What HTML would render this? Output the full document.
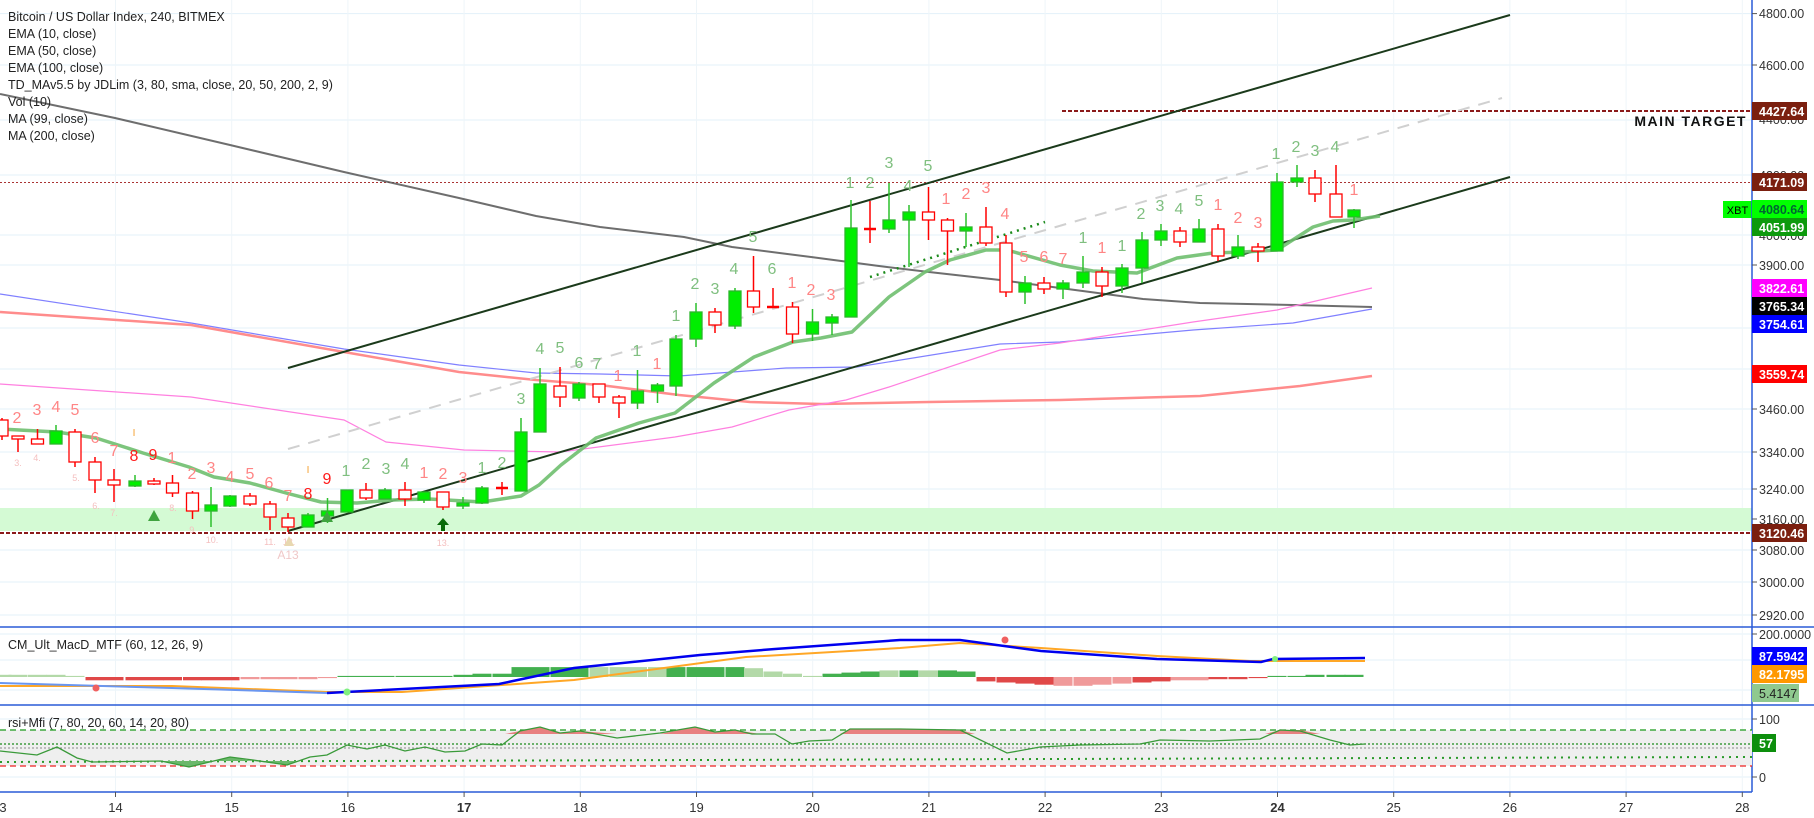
<!DOCTYPE html>
<html><head><meta charset="utf-8">
<style>
html,body{margin:0;padding:0;background:#fff;}
svg{display:block;font-family:"Liberation Sans",sans-serif;}
.leg{font-size:12.5px;fill:#222;}
.tk{font-size:12.5px;fill:#333;}
.num{font-size:16px;text-anchor:middle;}
.g{fill:#7fbf7f;}.r{fill:#ff8585;}.rb{fill:#ff1a1a;}
.lab{font-size:12.5px;font-weight:bold;fill:#fff;}
.dt{font-size:13px;fill:#333;text-anchor:middle;}
</style></head><body>
<svg id="s" width="1814" height="818" viewBox="0 0 1814 818" xmlns="http://www.w3.org/2000/svg">
<rect width="1814" height="818" fill="#fff"/>
<!-- horizontal grid -->
<g stroke="#e3f1fa" stroke-width="1">
<line x1="0" x2="1752" y1="13.6" y2="13.6"/><line x1="0" x2="1752" y1="65" y2="65"/><line x1="0" x2="1752" y1="120" y2="120"/>
<line x1="0" x2="1752" y1="175" y2="175"/><line x1="0" x2="1752" y1="235" y2="235"/><line x1="0" x2="1752" y1="265" y2="265"/>
<line x1="0" x2="1752" y1="328" y2="328"/><line x1="0" x2="1752" y1="369" y2="369"/><line x1="0" x2="1752" y1="409" y2="409"/>
<line x1="0" x2="1752" y1="452" y2="452"/><line x1="0" x2="1752" y1="489" y2="489"/><line x1="0" x2="1752" y1="519" y2="519"/>
<line x1="0" x2="1752" y1="550" y2="550"/><line x1="0" x2="1752" y1="582" y2="582"/><line x1="0" x2="1752" y1="615" y2="615"/>
<line x1="0" x2="1752" y1="634" y2="634"/><line x1="0" x2="1752" y1="660" y2="660"/><line x1="0" x2="1752" y1="690" y2="690"/>
<line x1="0" x2="1752" y1="719" y2="719"/><line x1="0" x2="1752" y1="777" y2="777"/>
</g>
<g id="vgrid" stroke="#eef5f9" stroke-width="1"></g>
<!-- support zone -->
<rect x="0" y="508" width="1752" height="23" fill="#d4fad4"/>
<!-- horizontal levels -->
<line x1="0" x2="1752" y1="533" y2="533" stroke="#8b1a1a" stroke-width="2" stroke-dasharray="4,2"/>
<line x1="0" x2="1752" y1="182.5" y2="182.5" stroke="#a33" stroke-width="1" stroke-dasharray="2,2"/>
<line x1="1062" x2="1752" y1="111" y2="111" stroke="#8b1a1a" stroke-width="2" stroke-dasharray="4,2"/>
<text x="1747" y="126" text-anchor="end" style="font-size:14px;font-weight:bold;letter-spacing:1.5px;fill:#111">MAIN TARGET</text>
<!-- MAs -->
<polyline fill="none" stroke="#555" stroke-width="2" opacity="0.85" points="0,94 115,118 230,145 344,172 459,198 536,216 600,227 684,237 732,247 811,257 879,266 929,272 1000,280 1060,288 1143,299 1200,303 1293,305 1372,307"/>
<polyline fill="none" stroke="#8080ff" stroke-width="1.2" points="0,294 191,323 344,349 459,365 536,373 600,374 679,376 786,368 857,367 1000,344 1060,342 1193,330 1293,323 1372,309"/>
<polyline fill="none" stroke="#ff8c8c" stroke-width="2.5" points="0,312 191,325 344,352 459,372 536,380 600,385 679,395 750,402 821,404 929,402 1060,400 1200,396 1300,386 1372,376"/>
<polyline fill="none" stroke="#ff80e0" stroke-width="1.2" points="0,384 191,397 344,420 386,442 464,450 560,452 675,437 732,427 789,410 846,400 889,387 1000,350 1060,343 1193,322 1277,310 1372,288"/>
<!-- channel -->
<line x1="288" y1="368" x2="1510" y2="15" stroke="#1b3a1b" stroke-width="2"/>
<line x1="288" y1="531" x2="1510" y2="177" stroke="#1b3a1b" stroke-width="2"/>
<line x1="288" y1="449" x2="1502" y2="98" stroke="#d0d0d0" stroke-width="2" stroke-dasharray="12,9"/>
<line x1="870" y1="277" x2="1045" y2="222" stroke="#1a8a1a" stroke-width="2.5" stroke-dasharray="2,5"/>
<!-- EMA10 -->
<polyline fill="none" stroke="#6fbf6f" stroke-width="3.5" opacity="0.9" stroke-linejoin="round" points="0,429 57,432 96,438 143,453 189,467 214,477 250,483 286,493 321,502 357,503 393,500 429,499 482,502 521,496 539,485 561,465 596,438 639,423 675,413 714,383 754,357 793,342 821,338 852,332 889,297 925,272 950,260 986,250 1007,250 1060,265 1093,271 1137,273 1177,258 1213,253 1243,252 1277,250 1313,227 1333,221 1353,220 1380,216"/>
<g id="candles"></g>
<!-- TD numbers -->
<g class="num">
<text class="r" x="17" y="423">2</text><text class="r" x="37" y="415">3</text><text class="r" x="56" y="412">4</text><text class="r" x="75" y="415">5</text>
<text class="r" x="95" y="443">6</text><text class="r" x="114" y="456">7</text><text class="rb" x="134" y="461">8</text><text class="rb" x="153" y="460">9</text>
<text class="r" x="172" y="463">1</text><text class="r" x="192" y="479">2</text><text class="r" x="211" y="473">3</text><text class="r" x="230" y="482">4</text>
<text class="r" x="250" y="479">5</text><text class="r" x="269" y="488">6</text><text class="r" x="288" y="501">7</text><text class="rb" x="308" y="499">8</text>
<text class="rb" x="327" y="484">9</text><text class="g" x="346" y="476">1</text><text class="g" x="366" y="469">2</text><text class="g" x="386" y="474">3</text>
<text class="g" x="405" y="469">4</text><text class="r" x="424" y="478">1</text><text class="r" x="443" y="479">2</text><text class="r" x="463" y="483">3</text>
<text class="g" x="482" y="473">1</text><text class="g" x="502" y="468">2</text><text class="g" x="521" y="404">3</text><text class="g" x="540" y="354">4</text>
<text class="g" x="560" y="353">5</text><text class="g" x="579" y="368">6</text><text class="g" x="597" y="369">7</text><text class="r" x="618" y="381">1</text>
<text class="g" x="637" y="356">1</text><text class="r" x="657" y="369">1</text><text class="g" x="676" y="321">1</text><text class="g" x="695" y="289">2</text>
<text class="g" x="715" y="294">3</text><text class="g" x="734" y="274">4</text><text class="g" x="753" y="242">5</text><text class="g" x="772" y="274">6</text>
<text class="r" x="792" y="288">1</text><text class="r" x="811" y="295">2</text><text class="r" x="831" y="300">3</text>
<text class="g" x="850" y="188">1</text><text class="g" x="870" y="188">2</text><text class="g" x="889" y="168">3</text><text class="g" x="908" y="191">4</text><text class="g" x="928" y="171">5</text>
<text class="r" x="946" y="204">1</text><text class="r" x="966" y="199">2</text><text class="r" x="986" y="193">3</text><text class="r" x="1005" y="219">4</text>
<text class="r" x="1024" y="262">5</text><text class="r" x="1044" y="262">6</text><text class="r" x="1063" y="264">7</text><text class="g" x="1083" y="243">1</text>
<text class="r" x="1102" y="253">1</text><text class="g" x="1122" y="251">1</text><text class="g" x="1141" y="219">2</text><text class="g" x="1160" y="211">3</text>
<text class="g" x="1179" y="214">4</text><text class="g" x="1199" y="206">5</text><text class="r" x="1218" y="210">1</text><text class="r" x="1238" y="223">2</text>
<text class="r" x="1258" y="228">3</text><text class="g" x="1276" y="159">1</text><text class="g" x="1296" y="152">2</text><text class="g" x="1315" y="156">3</text>
<text class="g" x="1335" y="152">4</text><text class="r" x="1354" y="195">1</text>
</g>
<g style="font-size:9px;fill:#f5c0c0" text-anchor="middle">
<text x="18" y="466">3.</text><text x="37" y="461">4.</text><text x="76" y="481">5.</text><text x="96" y="509">6.</text><text x="114" y="516">7.</text>
<text x="173" y="511">8.</text><text x="193" y="533">9.</text><text x="212" y="543">10.</text><text x="270" y="545">11.</text><text x="289" y="545">12.</text><text x="443" y="546">13.</text>
</g>
<text x="288" y="559" text-anchor="middle" style="font-size:12px;fill:#f0c8c8">A13</text>
<g fill="#f5a030" style="font-size:10px" text-anchor="middle"><text x="134" y="436">I</text><text x="308" y="473">I</text></g>
<polygon points="154,510 148,521 160,521" fill="#3fa33f"/>
<polygon points="327,511 321,522 333,522" fill="#3fa33f"/>
<polygon points="289,536 284,546 294,546" fill="#e8d8b0"/>
<polygon points="443,518 437,525 441,525 441,531 445,531 445,525 449,525" fill="#0a6b0a"/>
<!-- legend -->
<g class="leg">
<text x="8" y="21">Bitcoin / US Dollar Index, 240, BITMEX</text>
<text x="8" y="38">EMA (10, close)</text>
<text x="8" y="55">EMA (50, close)</text>
<text x="8" y="72">EMA (100, close)</text>
<text x="8" y="89">TD_MAv5.5 by JDLim (3, 80, sma, close, 20, 50, 200, 2, 9)</text>
<text x="8" y="106">Vol (10)</text>
<text x="8" y="123">MA (99, close)</text>
<text x="8" y="140">MA (200, close)</text>
</g>
<!-- XBT -->
<rect x="1723" y="201" width="29" height="17" fill="#00ff00"/>
<text x="1737.5" y="214" text-anchor="middle" style="font-size:11px;fill:#000">XBT</text>
<!-- panes -->
<line x1="0" x2="1814" y1="627" y2="627" stroke="#2a5bd7" stroke-width="1.5"/>
<line x1="0" x2="1814" y1="705" y2="705" stroke="#2a5bd7" stroke-width="1.5"/>
<line x1="0" x2="1752" y1="792" y2="792" stroke="#2a5bd7" stroke-width="1.5"/>
<line x1="1752" x2="1752" y1="0" y2="792" stroke="#2a5bd7" stroke-width="1.5"/>
<!-- MACD -->
<text class="leg" x="8" y="649">CM_Ult_MacD_MTF (60, 12, 26, 9)</text>
<g id="hist"></g>
<polyline fill="none" stroke="#ffa726" stroke-width="2" points="0,686 172,686 327,692 402,692 574,680 746,657 900,648 960,643 1041,648 1157,656 1250,661 1365,661"/>
<polyline fill="none" stroke="#6a96f0" stroke-width="2" points="0,683 172,688 327,693"/>
<polyline fill="none" stroke="#0000ee" stroke-width="2.5" points="327,693 499,684 574,668 700,655 775,649 900,640 960,640 1041,651 1157,659 1261,662 1273,659 1365,658"/>
<circle cx="96" cy="688" r="3.5" fill="#f06060"/><circle cx="347" cy="692" r="3.5" fill="#80f080"/><circle cx="1005" cy="640" r="3.5" fill="#f06060"/><circle cx="1275" cy="659" r="3" fill="#80f080"/>
<!-- RSI -->
<rect x="0" y="730" width="1752" height="36" fill="#efefef"/>
<text class="leg" x="8" y="727">rsi+Mfi (7, 80, 20, 60, 14, 20, 80)</text>
<line x1="0" x2="1752" y1="730" y2="730" stroke="#1a9a1a" stroke-width="1.2" stroke-dasharray="6,4"/>
<line x1="0" x2="1752" y1="744" y2="744" stroke="#1a8a1a" stroke-width="1.2" stroke-dasharray="2,2"/>
<line x1="0" x2="1752" y1="748" y2="748" stroke="#888" stroke-width="1" stroke-dasharray="2,2"/>
<line x1="0" x2="1752" y1="762" y2="757" stroke="#2a9a2a" stroke-width="2" stroke-dasharray="2,5"/>
<line x1="0" x2="1752" y1="766" y2="766" stroke="#ee2222" stroke-width="1.2" stroke-dasharray="6,4"/>
<polygon points="505,734 520,731 540,727 560,733 580,731 617,734 600,734" fill="#e88080"/>
<polygon points="660,734 695,727 715,732 735,730 760,734" fill="#e88080"/>
<polygon points="840,734 850,729 900,729 960,730 975,734" fill="#e88080"/>
<polygon points="1265,734 1280,730 1300,730 1320,734" fill="#e88080"/>
<polygon points="150,761 161,761 189,767 230,757 253,761 287,765 300,761" fill="#6ab86a"/>
<polyline fill="none" stroke="#3a9a3a" stroke-width="1.3" points="0,751 37,755 57,747 77,758 92,762 161,761 189,767 230,757 253,760 287,765 310,757 327,755 347,745 367,749 385,745 405,751 425,747 445,752 465,751 482,744 502,745 520,731 540,727 560,733 580,731 617,738 660,733 695,727 715,732 735,730 752,734 775,734 792,744 809,741 832,740 850,729 900,729 960,730 1007,753 1040,747 1080,745 1140,744 1160,740 1210,741 1260,739 1280,730 1300,731 1330,740 1350,745 1365,744"/>
<!-- right axis tick labels -->
<g stroke="#555"><line x1="1752" x2="1757" y1="13.6" y2="13.6"/><line x1="1752" x2="1757" y1="65" y2="65"/><line x1="1752" x2="1757" y1="265" y2="265"/><line x1="1752" x2="1757" y1="409" y2="409"/><line x1="1752" x2="1757" y1="452" y2="452"/><line x1="1752" x2="1757" y1="489" y2="489"/><line x1="1752" x2="1757" y1="519" y2="519"/><line x1="1752" x2="1757" y1="550" y2="550"/><line x1="1752" x2="1757" y1="582" y2="582"/><line x1="1752" x2="1757" y1="615" y2="615"/><line x1="1752" x2="1757" y1="634" y2="634"/><line x1="1752" x2="1757" y1="719" y2="719"/><line x1="1752" x2="1757" y1="777" y2="777"/></g>
<g class="tk">
<text x="1759" y="18">4800.00</text><text x="1759" y="70">4600.00</text><text x="1759" y="124">4400.00</text><text x="1759" y="180">4200.00</text><text x="1759" y="240">4000.00</text>
<text x="1759" y="270">3900.00</text><text x="1759" y="378">3560.00</text><text x="1759" y="414">3460.00</text><text x="1759" y="457">3340.00</text><text x="1759" y="494">3240.00</text>
<text x="1759" y="524">3160.00</text><text x="1759" y="555">3080.00</text><text x="1759" y="587">3000.00</text><text x="1759" y="620">2920.00</text>
<text x="1759" y="639">200.0000</text><text x="1759" y="724">100</text><text x="1759" y="782">0</text>
</g>
<!-- price labels -->
<g>
<rect x="1752" y="102" width="55" height="18" fill="#7b1f0f"/><text class="lab" x="1759" y="116">4427.64</text>
<rect x="1752" y="173" width="55" height="18" fill="#7b1f0f"/><text class="lab" x="1759" y="187">4171.09</text>
<rect x="1752" y="200" width="55" height="18" fill="#00ff00"/><text class="lab" x="1759" y="214" style="fill:#063">4080.64</text>
<rect x="1752" y="218" width="55" height="18" fill="#0d9a0d"/><text class="lab" x="1759" y="232">4051.99</text>
<rect x="1752" y="279" width="55" height="18" fill="#ff00ff"/><text class="lab" x="1759" y="293">3822.61</text>
<rect x="1752" y="297" width="55" height="18" fill="#000"/><text class="lab" x="1759" y="311">3765.34</text>
<rect x="1752" y="315" width="55" height="18" fill="#0000ff"/><text class="lab" x="1759" y="329">3754.61</text>
<rect x="1752" y="365" width="55" height="18" fill="#ff0000"/><text class="lab" x="1759" y="379">3559.74</text>
<rect x="1752" y="524" width="55" height="18" fill="#7b1f0f"/><text class="lab" x="1759" y="538">3120.46</text>
<rect x="1752" y="647" width="55" height="18" fill="#0000ff"/><text class="lab" x="1759" y="661">87.5942</text>
<rect x="1752" y="665" width="55" height="18" fill="#ff9800"/><text class="lab" x="1759" y="679">82.1795</text>
<rect x="1752" y="684" width="47" height="18" fill="#8fc98f"/><text class="lab" x="1759" y="698" style="fill:#222;font-weight:normal">5.4147</text>
<rect x="1752" y="734" width="24" height="18" fill="#0d8f0d"/><text class="lab" x="1759" y="748">57</text>
</g>
<!-- dates -->
<g class="dt">
<text x="3" y="812">3</text><text x="115.5" y="812">14</text><text x="231.7" y="812">15</text><text x="347.9" y="812">16</text>
<text x="464.1" y="812" font-weight="bold">17</text><text x="580.3" y="812">18</text><text x="696.5" y="812">19</text><text x="812.7" y="812">20</text>
<text x="928.9" y="812">21</text><text x="1045.1" y="812">22</text><text x="1161.3" y="812">23</text><text x="1277.5" y="812" font-weight="bold">24</text>
<text x="1393.7" y="812">25</text><text x="1509.9" y="812">26</text><text x="1626.1" y="812">27</text><text x="1742.3" y="812">28</text>
</g>
</svg>
<script>
var NS="http://www.w3.org/2000/svg";
function el(p,t,a){var e=document.createElementNS(NS,t);for(var k in a)e.setAttribute(k,a[k]);p.appendChild(e);return e;}
var vg=document.getElementById("vgrid"),s=document.getElementById("s");
for(var d=0;d<15;d++){var x=115.5+d*116.2;el(vg,"line",{x1:x,x2:x,y1:0,y2:792});el(s,"line",{x1:x,x2:x,y1:792,y2:797,stroke:"#555"});}
var C=[[2,420,436,418,440,'r'],[18,436,439,436,452,'r'],[37.5,439,444,429,444,'r'],[56,431,444,425,444,'g'],[75,432,462,429,467,'r'],[95,462,480,457,493,'r'],[114,480,485,469,502,'r'],[135,481,486,475,487,'g'],[154,481,484,478,485,'r'],[172.5,483,493,475,497,'r'],[192.5,493,511,491,519,'r'],[211,505,511,487,527,'g'],[230,496,506,495,507,'g'],[250,496,504,493,506,'r'],[270,504,517,501,530,'r'],[288,518,527,513,532,'r'],[308,515,527,513,527,'g'],[327.5,511,516,498,523,'g'],[347,490,512,490,512,'g'],[366,490,498,483,500,'r'],[385,490,499,488,499,'g'],[405,490,499,482,506,'r'],[424,492,500,492,503,'g'],[443,492,507,492,510,'r'],[463,503,506,497,509,'g'],[482,488,503,486,504,'g'],[502,488,488,482,495,'r'],[521,432,491,418,491,'g'],[540,384,432,368,432,'g'],[560,386,397,367,407,'r'],[579,384,398,382,401,'g'],[599,384,397,384,403,'r'],[619,397,403,395,418,'r'],[637.5,391,403,370,409,'g'],[657.5,385,391,383,403,'g'],[676,339,386,335,396,'g'],[696,312,339,303,347,'g'],[715,312,325,308,333,'r'],[735,291,326,288,329,'g'],[753.5,291,307,256,313,'r'],[773,307,307,288,308,'r'],[792.5,307,334,302,343,'r'],[812.5,322,334,309,341,'g'],[832,317,323,314,335,'g'],[851,228,317,200,317,'g'],[870,229,229,201,243,'r'],[889,220,229,183,233,'g'],[909,212,220,205,267,'g'],[928.5,212,220,187,240,'r'],[947.5,220,231,218,265,'r'],[966,227,231,213,247,'g'],[986,227,243,207,246,'r'],[1006,243,292,235,297,'r'],[1025,283,292,276,304,'g'],[1044,283,289,277,294,'r'],[1063,283,289,280,299,'g'],[1083,272,283,256,288,'g'],[1102,272,286,267,297,'r'],[1122,268,286,264,293,'g'],[1142,240,268,232,283,'g'],[1161,231,240,224,246,'g'],[1180,231,242,227,247,'r'],[1199,229,242,219,242,'g'],[1218,229,256,224,261,'r'],[1238,247,256,235,259,'g'],[1258,247,251,243,262,'r'],[1277,182,251,173,251,'g'],[1297,178,182,165,187,'g'],[1315,178,194,170,202,'r'],[1336,194,217,165,217,'r'],[1354,210,217,209,228,'g']];
var cg=document.getElementById("candles");
C.forEach(function(c){var x=c[0],g=c[5]=='g',col=g?"#2bb52b":"#ff0000";
el(cg,"line",{x1:x,x2:x,y1:c[3],y2:c[4],stroke:g?"#2cc02c":"#ff0000","stroke-width":1.5});
if(c[2]-c[1]<1){el(cg,"line",{x1:x-6,x2:x+6,y1:c[1],y2:c[1],stroke:"#ff0000","stroke-width":2.5});}
else el(cg,"rect",{x:x-6,y:c[1],width:12,height:c[2]-c[1],fill:g?"#00ee00":"#fff",stroke:col,"stroke-width":1.3});});
var H=[2,2,2,2,1,-3,-3,-3,-3,-3,-3,-3,-3,-2,-2,-2,-2,-1,1,1,1,1,1,1,2,3,3,9,9,9,9,9,9,9,9,9,9,9,9,8,5,3,1,3,4,5,6,6,6,6,5,-4,-5,-6,-7,-8,-8,-7,-6,-5,-4,-3,-3,-2,-2,-1,1,1,2,2,2,2];
var T=['lg','lg','lg','lg','lg','r','r','r','r','r','r','r','r','lr','lr','lr','lr','lr','g','g','g','g','g','g','g','g','g','g','g','g','g','lg','lg','lg','lg','g','g','g','g','lg','lg','lg','lg','g','g','g','lg','g','lg','g','g','r','r','r','r','lr','lr','lr','lr','r','r','lr','lr','r','r','r','g','g','g','g','g','g'];
var cols={g:"#43b04f",lg:"#b3d9a8",r:"#e04848",lr:"#f09a9a"};
var hg=document.getElementById("hist");
for(var i=0;i<C.length;i++){var h=H[i]*1.1,x=C[i][0];el(hg,"rect",{x:x-9.5,y:h>0?677-h:677,width:19,height:Math.abs(h),fill:cols[T[i]]});}
</script>
</body></html>
